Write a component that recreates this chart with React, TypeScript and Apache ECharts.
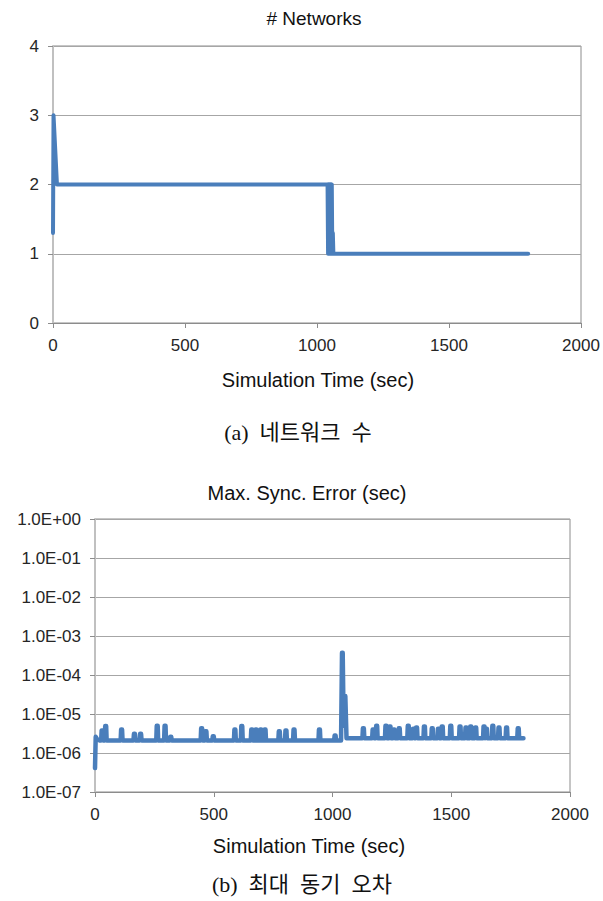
import React, { useEffect, useRef } from "react";
import * as echarts from "echarts";

// (a) number of networks over simulation time
const netTime = [0, 2, 4, 15, 1040, 1042, 1044, 1046, 1048, 1050, 1052, 1054, 1056, 1058, 1060, 1062, 1068, 1800];
const netCount = [1.3, 3, 3, 2, 2, 1, 2, 1, 2, 1, 2, 1, 2, 1, 1.3, 1, 1, 1];

// (b) max sync error (sec)
const errStartTime = [0, 3, 8, 20];
const errStartValue = [4.1e-7, 2.6e-6, 2.3e-6, 2.1e-6];
const errBaseBefore = 2.1e-6;
const errBaseAfter = 2.4e-6;
const errSpikeTimes = [30, 45, 112, 166, 192, 262, 295, 319, 449, 467, 498, 589, 618, 660, 678, 698, 716, 776, 804, 838, 945, 1011];
const errSpikePeaks = [3.8e-6, 4.9e-6, 4.0e-6, 3.1e-6, 3.1e-6, 5.0e-6, 5.0e-6, 2.6e-6, 4.3e-6, 3.6e-6, 2.7e-6, 4.0e-6, 4.9e-6, 4.0e-6, 4.0e-6, 4.0e-6, 4.0e-6, 3.6e-6, 3.8e-6, 4.0e-6, 4.0e-6, 2.8e-6];
const errJumpTime = [1036, 1040, 1043, 1047, 1051, 1054, 1059];
const errJumpValue = [2.1e-6, 3.7e-4, 3.7e-4, 5.0e-6, 2.9e-5, 2.9e-5, 2.4e-6];
const errSpikeTimes2 = [1130, 1171, 1186, 1225, 1242, 1259, 1281, 1319, 1341, 1354, 1387, 1420, 1446, 1462, 1498, 1537, 1562, 1582, 1603, 1638, 1648, 1675, 1701, 1733, 1782];
const errSpikePeaks2 = [4.3e-6, 4.0e-6, 5.0e-6, 5.0e-6, 4.8e-6, 4.0e-6, 4.3e-6, 5.0e-6, 4.2e-6, 4.5e-6, 4.8e-6, 4.3e-6, 4.2e-6, 4.8e-6, 5.0e-6, 4.8e-6, 4.5e-6, 4.8e-6, 4.5e-6, 4.8e-6, 4.2e-6, 5.0e-6, 4.5e-6, 4.5e-6, 4.3e-6];
const errEndTime = 1804;

const xTicks = [0, 500, 1000, 1500, 2000];

const BLUE = "#4a7ebb";
const SANS = "'Liberation Sans', Arial, sans-serif";
const SERIF = "'Liberation Serif', 'Noto Sans CJK KR', serif";

function buildErr(): [number, number][] {
  const pts: [number, number][] = [];
  errStartTime.forEach((t, i) => pts.push([t, errStartValue[i]]));
  errSpikeTimes.forEach((t, i) => {
    pts.push([t - 4, errBaseBefore]);
    pts.push([t - 2, errSpikePeaks[i]]);
    pts.push([t + 2, errSpikePeaks[i]]);
    pts.push([t + 4, errBaseBefore]);
  });
  errJumpTime.forEach((t, i) => pts.push([t, errJumpValue[i]]));
  errSpikeTimes2.forEach((t, i) => {
    pts.push([t - 4, errBaseAfter]);
    pts.push([t - 2, errSpikePeaks2[i]]);
    pts.push([t + 2, errSpikePeaks2[i]]);
    pts.push([t + 4, errBaseAfter]);
  });
  pts.push([errEndTime, errBaseAfter]);
  return pts;
}

function expLabel(v: number): string {
  const e = Math.round(Math.log10(v));
  const s = e < 0 ? "-" : "+";
  return "1.0E" + s + String(Math.abs(e)).padStart(2, "0");
}

export default function App() {
  const ref = useRef<HTMLDivElement>(null);
  useEffect(() => {
    document.body.style.margin = "0";
    const chart = echarts.init(ref.current!, null, { renderer: "svg" });
    const axisCommonX = {
      type: "value" as const,
      min: xTicks[0],
      max: xTicks[xTicks.length - 1],
      interval: 500,
      axisLine: { show: true, onZero: false, lineStyle: { color: "#8c8c8c", width: 1 } },
      axisTick: { show: true, length: 5, lineStyle: { color: "#8c8c8c" } },
      axisLabel: { fontSize: 17, color: "#262626", margin: 14, fontFamily: SANS, formatter: (v: number) => String(v) },
      splitLine: { show: false },
    };
    chart.setOption({
      animation: false,
      grid: [
        { left: 53, top: 46, width: 528, height: 277, show: true, borderColor: "#8c8c8c", borderWidth: 1, backgroundColor: "transparent" },
        { left: 95, top: 519, width: 475, height: 273, show: true, borderColor: "#8c8c8c", borderWidth: 1, backgroundColor: "transparent" },
      ],
      xAxis: [
        { ...axisCommonX, gridIndex: 0 },
        { ...axisCommonX, gridIndex: 1 },
      ],
      yAxis: [
        {
          type: "value",
          gridIndex: 0,
          min: 0,
          max: 4,
          interval: 1,
          axisLine: { show: true, lineStyle: { color: "#c0c0c0", width: 2 } },
          axisTick: { show: true, length: 5, lineStyle: { color: "#8c8c8c" } },
          axisLabel: { fontSize: 17, color: "#262626", margin: 14, fontFamily: SANS },
          splitLine: { show: true, lineStyle: { color: "#a6a6a6", width: 1 } },
        },
        {
          type: "log",
          logBase: 10,
          gridIndex: 1,
          min: 1e-7,
          max: 1,
          splitNumber: 7,
          axisLine: { show: true, lineStyle: { color: "#c0c0c0", width: 2 } },
          axisTick: { show: true, length: 5, lineStyle: { color: "#8c8c8c" } },
          axisLabel: { fontSize: 17, color: "#262626", margin: 14, fontFamily: SANS, formatter: expLabel },
          splitLine: { show: true, lineStyle: { color: "#a6a6a6", width: 1 } },
        },
      ],
      series: [
        {
          type: "line",
          xAxisIndex: 0,
          yAxisIndex: 0,
          data: netTime.map((t, i) => [t, netCount[i]]),
          showSymbol: false,
          symbol: "none",
          lineStyle: { color: BLUE, width: 4, join: "round", cap: "round" },
        },
        {
          type: "line",
          xAxisIndex: 1,
          yAxisIndex: 1,
          data: buildErr(),
          showSymbol: false,
          symbol: "none",
          lineStyle: { color: BLUE, width: 4.5, join: "round", cap: "round" },
        },
      ],
      graphic: [
        { type: "text", x: 314, y: 18, style: { text: "# Networks", fontSize: 19, fontFamily: SANS, fill: "#111", align: "center", verticalAlign: "middle" } },
        { type: "text", x: 318, y: 380, style: { text: "Simulation Time (sec)", fontSize: 20, fontFamily: SANS, fill: "#111", align: "center", verticalAlign: "middle" } },
        { type: "text", x: 298, y: 432, style: { text: "(a)  네트워크  수", fontSize: 22, fontFamily: SERIF, fill: "#111", align: "center", verticalAlign: "middle" } },
        { type: "text", x: 307, y: 493, style: { text: "Max. Sync. Error (sec)", fontSize: 20, fontFamily: SANS, fill: "#111", align: "center", verticalAlign: "middle" } },
        { type: "text", x: 309, y: 846, style: { text: "Simulation Time (sec)", fontSize: 20, fontFamily: SANS, fill: "#111", align: "center", verticalAlign: "middle" } },
        { type: "text", x: 302, y: 884, style: { text: "(b)  최대  동기  오차", fontSize: 22, fontFamily: SERIF, fill: "#111", align: "center", verticalAlign: "middle" } },
      ],
    });
    return () => chart.dispose();
  }, []);
  return <div ref={ref} style={{ width: 603, height: 901 }} />;
}
